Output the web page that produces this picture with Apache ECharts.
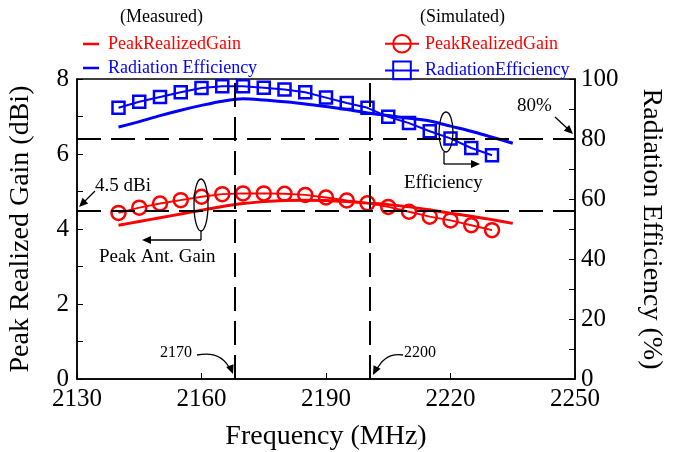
<!DOCTYPE html>
<html lang="en">
<head>
<meta charset="UTF-8">
<title>Peak realized gain and radiation efficiency</title>
<script src="https://cdn.jsdelivr.net/npm/echarts@6/dist/echarts.min.js"></script>
<style>
  html, body { margin: 0; background: #fff; }
  #chart { width: 676px; height: 452px; }
</style>
</head>
<body>
<div id="chart"></div>
<script>
// simulated points (markers), every 5 MHz
var simFreq = [2140, 2145, 2150, 2155, 2160, 2165, 2170, 2175, 2180, 2185, 2190, 2195, 2200, 2205, 2210, 2215, 2220, 2225, 2230];
var simGain = [4.43, 4.57, 4.68, 4.77, 4.86, 4.93, 4.95, 4.95, 4.94, 4.91, 4.84, 4.76, 4.69, 4.59, 4.46, 4.33, 4.23, 4.10, 3.97];
var simEff = [90.4, 92.4, 94.0, 95.6, 97.0, 97.6, 97.6, 97.1, 96.5, 95.6, 93.8, 92.0, 90.4, 87.4, 85.3, 82.6, 80.2, 77.0, 74.6];

// measured curves
var measFreq = [2140, 2145, 2150, 2155, 2160, 2165, 2170, 2175, 2180, 2185, 2190, 2195, 2200, 2205, 2210, 2215, 2220, 2225, 2230, 2235];
var measGain = [4.10, 4.20, 4.30, 4.40, 4.50, 4.60, 4.68, 4.73, 4.76, 4.77, 4.76, 4.73, 4.69, 4.65, 4.59, 4.51, 4.42, 4.34, 4.25, 4.15];
var measEff = [84.0, 85.8, 87.8, 89.6, 91.2, 92.6, 93.4, 93.0, 92.4, 91.7, 90.8, 89.8, 88.7, 87.8, 86.9, 86.0, 84.3, 82.6, 80.6, 78.6];

// dashed guide lines
var guideFreq = [2168, 2200.5];
var guideGain = 4.5;
var guideEff = 80;

var serif = 'Liberation Serif';
var RED = '#ff0000', BLUE = '#0000ff';

function pairs(xs, ys) {
  return xs.map(function (x, i) { return [x, ys[i]]; });
}

// small filled triangle for arrow tips
function tip(x, y, ang) {
  var L = 9, W = 4;
  var bx = x - L * Math.cos(ang), by = y - L * Math.sin(ang);
  var nx = -Math.sin(ang) * W, ny = Math.cos(ang) * W;
  return { type: 'polygon', shape: { points: [[x, y], [bx + nx, by + ny], [bx - nx, by - ny]] }, style: { fill: '#000' }, z: 100 };
}
function seg(x1, y1, x2, y2) {
  return { type: 'line', shape: { x1: x1, y1: y1, x2: x2, y2: y2 }, style: { stroke: '#000', lineWidth: 1.3 }, z: 100 };
}
function label(t, x, y, size, align) {
  return { type: 'text', x: x, y: y, z: 100,
    style: { text: t, fontFamily: serif, fontSize: size, fill: '#000', align: align || 'left', verticalAlign: 'middle' } };
}

// legend text: red for gain entries, blue for efficiency entries
function legendFormat(name) {
  return (name.indexOf('Gain') >= 0 ? '{r|' : '{b|') + name + '}';
}
function legendRich(padLeft) {
  return {
    r: { color: RED, fontFamily: serif, fontSize: 18, padding: [0, 0, 0, padLeft] },
    b: { color: BLUE, fontFamily: serif, fontSize: 18, padding: [0, 0, 0, padLeft] }
  };
}

var chart = echarts.init(document.getElementById('chart'));

var dash = { type: [24, 10], color: '#000', width: 2 };
var lineIcon = 'path://M0,0h16v2.5h-16z';

chart.setOption({
  animation: false,
  backgroundColor: '#fff',
  textStyle: { fontFamily: serif },
  grid: { left: 77, right: 101, top: 79, bottom: 73, show: true, borderColor: '#000', borderWidth: 1.5, containLabel: false, outerBoundsMode: 'none' },
  legend: [{
    left: 83, top: 35, padding: 0, orient: 'vertical', itemWidth: 16, itemHeight: 12, itemGap: 6,
    formatter: legendFormat,
    textStyle: { fontFamily: serif, fontSize: 18, rich: legendRich(4) },
    data: [
      { name: 'PeakRealizedGain', icon: lineIcon },
      { name: 'Radiation Efficiency', icon: lineIcon }
    ]
  }, {
    left: 384, top: 34, padding: 0, orient: 'vertical', itemWidth: 34, itemHeight: 22, itemGap: 7,
    formatter: legendFormat,
    textStyle: { fontFamily: serif, fontSize: 18, rich: legendRich(1) },
    data: ['PeakRealizedGain ', 'RadiationEfficiency']
  }],
  xAxis: {
    type: 'value', min: 2130, max: 2250, interval: 30,
    name: 'Frequency (MHz)', nameLocation: 'middle', nameGap: 44,
    nameTextStyle: { fontFamily: serif, fontSize: 28, color: '#000' },
    axisLine: { lineStyle: { color: '#000', width: 1.5 } },
    axisTick: { inside: true, length: 6, lineStyle: { color: '#000' } },
    axisLabel: { fontFamily: serif, fontSize: 25, color: '#000', margin: 8, formatter: function (v) { return String(v); } },
    splitLine: { show: false }
  },
  yAxis: [{
    type: 'value', min: 0, max: 8, interval: 2,
    name: 'Peak Realized Gain (dBi)', nameLocation: 'middle', nameGap: 42, nameRotate: 90,
    nameTextStyle: { fontFamily: serif, fontSize: 28, color: '#000' },
    axisLine: { show: true, lineStyle: { color: '#000', width: 1.5 } },
    axisTick: { show: true, inside: true, length: 6, lineStyle: { color: '#000' } },
    minorTick: { show: true, splitNumber: 2, length: 6, lineStyle: { color: '#000' } },
    axisLabel: { fontFamily: serif, fontSize: 25, color: '#000', margin: 8 },
    splitLine: { show: false }
  }, {
    type: 'value', min: 0, max: 100, interval: 20, position: 'right',
    name: 'Radiation Efficiency (%)', nameLocation: 'middle', nameGap: 62, nameRotate: -90,
    nameTextStyle: { fontFamily: serif, fontSize: 28, color: '#000' },
    axisLine: { show: true, lineStyle: { color: '#000', width: 1.5 } },
    axisTick: { show: true, inside: true, length: 6, lineStyle: { color: '#000' } },
    minorTick: { show: true, splitNumber: 2, length: 6, lineStyle: { color: '#000' } },
    axisLabel: { fontFamily: serif, fontSize: 25, color: '#000', margin: 6 },
    splitLine: { show: false }
  }],
  series: [{
    name: 'PeakRealizedGain', type: 'line', yAxisIndex: 0, symbol: 'none', smooth: 0.3,
    data: pairs(measFreq, measGain),
    lineStyle: { color: RED, width: 3 }, itemStyle: { color: RED },
    markLine: {
      silent: true, symbol: 'none', label: { show: false }, lineStyle: dash,
      data: [{ yAxis: guideGain }, { xAxis: guideFreq[0] }, { xAxis: guideFreq[1] }]
    }
  }, {
    name: 'Radiation Efficiency', type: 'line', yAxisIndex: 1, symbol: 'none', smooth: 0.3,
    data: pairs(measFreq, measEff),
    lineStyle: { color: BLUE, width: 3 }, itemStyle: { color: BLUE },
    markLine: {
      silent: true, symbol: 'none', label: { show: false }, lineStyle: dash,
      data: [{ yAxis: guideEff }]
    }
  }, {
    name: 'PeakRealizedGain ', type: 'line', yAxisIndex: 0, symbol: 'circle', symbolSize: 14,
    data: pairs(simFreq, simGain),
    lineStyle: { color: RED, width: 2 },
    itemStyle: { color: 'rgba(0,0,0,0)', borderColor: RED, borderWidth: 2.5 }
  }, {
    name: 'RadiationEfficiency', type: 'line', yAxisIndex: 1, symbol: 'rect', symbolSize: 12,
    data: pairs(simFreq, simEff),
    lineStyle: { color: BLUE, width: 2 },
    itemStyle: { color: 'rgba(0,0,0,0)', borderColor: BLUE, borderWidth: 2.5 }
  }],
  graphic: [
    label('(Measured)', 120, 17, 18),
    label('(Simulated)', 420, 17, 18),
    // 4.5 dBi callout
    label('4.5 dBi', 95, 186, 19),
    seg(95, 191, 83, 203), tip(79, 207, Math.atan2(16, -16)),
    // 80% callout
    label('80%', 517, 106, 19),
    seg(555, 117, 568, 129), tip(573, 134, Math.atan2(17, 18)),
    // gain bracket
    { type: 'ellipse', shape: { cx: 201, cy: 205, rx: 7, ry: 26 }, style: { fill: 'none', stroke: '#000', lineWidth: 1.3 }, z: 100 },
    seg(201, 231, 201, 240), seg(201, 240, 150, 240), tip(142, 240, Math.PI),
    label('Peak Ant. Gain', 99, 257, 19),
    // efficiency bracket
    { type: 'ellipse', shape: { cx: 446, cy: 132, rx: 7, ry: 20 }, style: { fill: 'none', stroke: '#000', lineWidth: 1.3 }, z: 100 },
    seg(444, 152, 444, 164), seg(444, 164, 472, 164), tip(480, 164, 0),
    label('Efficiency', 404, 183, 19),
    // frequency markers
    label('2170', 160, 353, 16),
    { type: 'bezierCurve', shape: { x1: 197, y1: 355, x2: 231, y2: 371, cpx1: 222, cpy1: 350 }, style: { fill: 'none', stroke: '#000', lineWidth: 1.3 }, z: 100 },
    tip(233, 374, Math.atan2(8, 3)),
    label('2200', 404, 353, 16),
    { type: 'bezierCurve', shape: { x1: 403, y1: 355, x2: 376, y2: 371, cpx1: 385, cpy1: 352 }, style: { fill: 'none', stroke: '#000', lineWidth: 1.3 }, z: 100 },
    tip(373, 375, Math.atan2(8, -4))
  ]
});
</script>
</body>
</html>
